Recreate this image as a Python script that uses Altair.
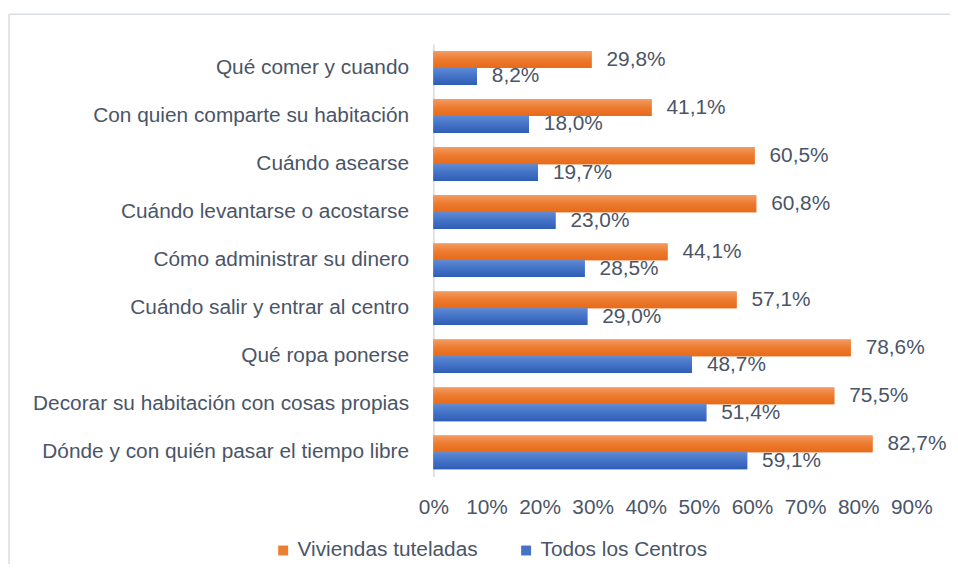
import altair as alt
import pandas as pd

categories = [
    "Qué comer y cuando",
    "Con quien comparte su habitación",
    "Cuándo asearse",
    "Cuándo levantarse o acostarse",
    "Cómo administrar su dinero",
    "Cuándo salir y entrar al centro",
    "Qué ropa ponerse",
    "Decorar su habitación con cosas propias",
    "Dónde y con quién pasar el tiempo libre",
]
viviendas = [29.8, 41.1, 60.5, 60.8, 44.1, 57.1, 78.6, 75.5, 82.7]
todos = [8.2, 18.0, 19.7, 23.0, 28.5, 29.0, 48.7, 51.4, 59.1]
series = ["Viviendas tuteladas", "Todos los Centros"]
x_ticks = [0, 0.1, 0.2, 0.3, 0.4, 0.5, 0.6, 0.7, 0.8, 0.9]

rows = []
for c, v1, v2 in zip(categories, viviendas, todos):
    rows.append({"cat": c, "serie": series[0], "pct": v1})
    rows.append({"cat": c, "serie": series[1], "pct": v2})
df = pd.DataFrame(rows)

TXT = "#4a5567"
FONT = "Liberation Sans, Arial, sans-serif"
FS = 21
FRAME = "#D9DEE3"

grad_o = alt.Gradient(gradient="linear", x1=0, x2=0, y1=0, y2=1,
                      stops=[alt.GradientStop(color="#F39A62", offset=0),
                             alt.GradientStop(color="#EC7A2E", offset=0.5),
                             alt.GradientStop(color="#E86A18", offset=1)])
grad_b = alt.Gradient(gradient="linear", x1=0, x2=0, y1=0, y2=1,
                      stops=[alt.GradientStop(color="#5D8AD6", offset=0),
                             alt.GradientStop(color="#4472C4", offset=0.5),
                             alt.GradientStop(color="#2E5DB8", offset=1)])

base = alt.Chart(df).transform_calculate(
    v="datum.pct / 100",
    label="replace(format(datum.pct, '.1f'), '.', ',') + '%'",
)

y_enc = alt.Y("cat:N", sort=categories,
              scale=alt.Scale(paddingInner=0.3, paddingOuter=0.15),
              axis=alt.Axis(title=None, ticks=False, domain=True, domainColor="#D9D9D9",
                            domainWidth=1.5, labelPadding=25, labelFontSize=FS,
                            labelColor=TXT, labelFont=FONT, labelLimit=500))
yoff = alt.YOffset("serie:N", sort=series,
                   scale=alt.Scale(domain=series, paddingInner=0, paddingOuter=0))
x_enc = alt.X("v:Q", scale=alt.Scale(domain=[0, 0.9], nice=False),
              axis=alt.Axis(values=x_ticks, format=".0%", title=None, domain=False,
                            ticks=False, grid=False, labelPadding=20, labelFontSize=FS,
                            labelColor=TXT, labelFont=FONT, labelOverlap=False,
                            labelBound=False, labelFlush=False))

legend_bars = base.mark_bar().encode(
    x=x_enc, y=y_enc, yOffset=yoff,
    color=alt.Color("serie:N", sort=series,
                    scale=alt.Scale(domain=series, range=["#ED7D31", "#4472C4"]),
                    legend=alt.Legend(title=None, orient="none", direction="horizontal",
                                      legendX=-162, legendY=500,
                                      symbolType="square", symbolSize=100,
                                      symbolStrokeWidth=0, labelFontSize=FS,
                                      labelColor=TXT, labelFont=FONT,
                                      columnPadding=38, labelOffset=4,
                                      labelLimit=400)),
)

orange = base.transform_filter(alt.datum.serie == series[0]).mark_bar(fill=grad_o).encode(
    x=x_enc, y=y_enc, yOffset=yoff)
blue = base.transform_filter(alt.datum.serie == series[1]).mark_bar(fill=grad_b).encode(
    x=x_enc, y=y_enc, yOffset=yoff)

labels = base.mark_text(align="left", baseline="middle", dx=15, fontSize=FS,
                        color=TXT, font=FONT).encode(
    x=x_enc, y=y_enc, yOffset=yoff, text="label:N")

# chart frame (decoration)
one = alt.Chart(pd.DataFrame({"k": [0]}))
frame_top = one.mark_rule(color=FRAME, strokeWidth=1.5).encode(
    x=alt.value(-428), x2=alt.value(530), y=alt.value(-30))
frame_left = one.mark_rule(color=FRAME, strokeWidth=1.5).encode(
    x=alt.value(-428), y=alt.value(-30), y2=alt.value(530))

chart = alt.layer(frame_top, frame_left, legend_bars, orange, blue, labels).properties(
    width=482, height=436,
    autosize=alt.AutoSizeParams(type="none"),
    padding={"left": 429, "top": 34, "right": 39, "bottom": 86},
).configure(background="white").configure_view(strokeWidth=0, stroke="transparent")

chart.save("out.html", embed_options={"renderer": "svg", "actions": False})
